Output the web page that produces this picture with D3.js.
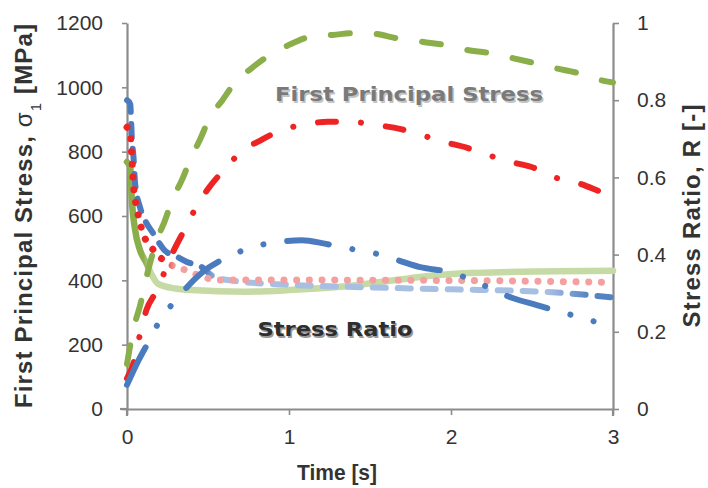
<!DOCTYPE html>
<html>
<head>
<meta charset="utf-8">
<script src="https://cdn.jsdelivr.net/npm/d3@7"></script>
<style>
  html, body { margin: 0; padding: 0; background: #fff; }
  svg { display: block; }
</style>
</head>
<body>
<svg id="chart" width="708" height="488"></svg>
<script>
// ---------- DATA ----------
const xTicks = [0, 1, 2, 3];
const leftTicks = [0, 200, 400, 600, 800, 1000, 1200];
const rightTicks = [0, 0.2, 0.4, 0.6, 0.8, 1];

// First principal stress [MPa] (left axis)
const tGreenStress = [0, 0.04, 0.08, 0.13, 0.19, 0.23, 0.28, 0.34, 0.39, 0.45, 0.51, 0.59, 0.67, 0.77, 0.88, 1.0, 1.13, 1.27, 1.42, 1.54, 1.66, 1.83, 1.96, 2.1, 2.23, 2.38, 2.51, 2.64, 2.78, 2.92, 3.0];
const greenStress  = [140, 250, 320, 430, 533, 580, 651, 713, 775, 837, 905, 961, 1017, 1060, 1100, 1132, 1157, 1163, 1169, 1166, 1153, 1141, 1132, 1116, 1107, 1091, 1076, 1060, 1045, 1023, 1015];

const tRedStress = [0, 0.05, 0.08, 0.12, 0.18, 0.28, 0.36, 0.43, 0.51, 0.6, 0.7, 0.83, 0.96, 1.09, 1.24, 1.38, 1.52, 1.69, 1.81, 1.95, 2.1, 2.22, 2.36, 2.51, 2.63, 2.78, 2.92, 3.0];
const redStress  = [95, 160, 232, 308, 365, 484, 562, 630, 691, 744, 797, 837, 868, 884, 893, 893, 884, 870, 853, 831, 812, 791, 769, 750, 722, 703, 676, 660];

const tBlueStress = [0, 0.07, 0.14, 0.2, 0.3, 0.46, 0.65, 0.78, 0.93, 1.08, 1.22, 1.36, 1.52, 1.67, 1.81, 1.99, 2.2, 2.38, 2.53, 2.81, 3.0];
const blueStress  = [75, 150, 215, 273, 338, 423, 479, 504, 519, 525, 514, 500, 485, 463, 441, 426, 385, 345, 323, 283, 255];

// Stress ratio R [-] (right axis)
const tGreenRatio = [0, 0.02, 0.03, 0.05, 0.08, 0.12, 0.15, 0.19, 0.3, 0.4, 0.73, 1.0, 1.3, 1.75, 2.0, 2.5, 3.0];
const greenRatio  = [0.64, 0.627, 0.541, 0.464, 0.412, 0.378, 0.35, 0.325, 0.312, 0.308, 0.304, 0.308, 0.316, 0.339, 0.35, 0.356, 0.358];

const tRedRatio = [0, 0.02, 0.03, 0.04, 0.06, 0.08, 0.1, 0.14, 0.19, 0.25, 0.33, 0.39, 0.47, 0.56, 1.0, 2.0, 3.0];
const redRatio  = [0.73, 0.715, 0.65, 0.58, 0.521, 0.484, 0.453, 0.425, 0.399, 0.378, 0.365, 0.355, 0.342, 0.334, 0.334, 0.333, 0.328];

const tBlueRatio = [0, 0.02, 0.03, 0.04, 0.05, 0.08, 0.11, 0.16, 0.23, 0.31, 0.37, 0.46, 0.54, 0.7, 1.0, 1.5, 2.0, 2.6, 3.0];
const blueRatio  = [0.8, 0.79, 0.70, 0.653, 0.585, 0.523, 0.49, 0.456, 0.412, 0.394, 0.381, 0.368, 0.342, 0.33, 0.322, 0.315, 0.31, 0.303, 0.289];

// ---------- CHART ----------
const svg = d3.select("#chart");
const FONT = "'Liberation Sans', Arial, sans-serif";
const x = d3.scaleLinear().domain([0, 3]).range([127, 613]);
const yL = d3.scaleLinear().domain([0, 1200]).range([409, 23]);
const yR = d3.scaleLinear().domain([0, 1]).range([409, 23]);

const defs = svg.append("defs");
function gradient(id, stops) {
  const g = defs.append("linearGradient").attr("id", id)
    .attr("gradientUnits", "userSpaceOnUse")
    .attr("x1", x(0)).attr("x2", x(3)).attr("y1", 0).attr("y2", 0);
  stops.forEach(([t, c]) => g.append("stop").attr("offset", t / 3).attr("stop-color", c));
}
gradient("gGreen", [[0, "#8aae4a"], [0.1, "#8aae4a"], [0.15, "#c6daa6"], [3, "#c6daa6"]]);
gradient("gRed", [[0, "#ee2424"], [0.22, "#ee2424"], [0.3, "#f4a0a0"], [3, "#f4a0a0"]]);
gradient("gBlue", [[0, "#4a7bbf"], [0.48, "#4a7bbf"], [0.56, "#a6bfe2"], [2.6, "#a6bfe2"], [2.85, "#5583c2"], [3, "#5583c2"]]);

const axisColor = "#8c8c8c";
const textColor = "#333";

// Axes
const gx = svg.append("g").attr("transform", "translate(0,409)")
  .call(d3.axisBottom(x).tickValues(xTicks).tickSize(6).tickSizeOuter(0).tickPadding(14).tickFormat(d3.format("d")));
const gl = svg.append("g").attr("transform", "translate(127,0)")
  .call(d3.axisLeft(yL).tickValues(leftTicks).tickSize(6).tickSizeOuter(0).tickPadding(18).tickFormat(d3.format("d")));
const gr = svg.append("g").attr("transform", "translate(613,0)")
  .call(d3.axisRight(yR).tickValues(rightTicks).tickSize(6).tickSizeOuter(0).tickPadding(18).tickFormat(d => String(d)));

[gx, gl, gr].forEach(g => {
  g.select(".domain").attr("stroke", axisColor).attr("stroke-width", 2.2);
  g.selectAll(".tick line").attr("stroke", axisColor).attr("stroke-width", 1.6);
  g.selectAll(".tick text").attr("fill", textColor).style("font-family", FONT).style("font-size", "21px");
});
// small axis overhangs
svg.append("line").attr("x1", 120).attr("x2", 127).attr("y1", 409).attr("y2", 409).attr("stroke", axisColor).attr("stroke-width", 2.2);
svg.append("line").attr("x1", 127).attr("x2", 127).attr("y1", 409).attr("y2", 416).attr("stroke", axisColor).attr("stroke-width", 2.2);
svg.append("line").attr("x1", 613).attr("x2", 613).attr("y1", 409).attr("y2", 416).attr("stroke", axisColor).attr("stroke-width", 2.2);
gl.selectAll(".tick line").attr("x2", -5);

// Lines
const line = (ys) => d3.line().x(d => x(d[0])).y(d => ys(d[1])).curve(d3.curveMonotoneX);
const zip = (a, b) => a.map((t, i) => [t, b[i]]);

const plot = svg.append("g").attr("fill", "none").attr("stroke-linecap", "round");

plot.append("path").datum(zip(tGreenRatio, greenRatio))
  .attr("d", line(yR)).attr("stroke", "url(#gGreen)").attr("stroke-width", 6.5);
plot.append("path").datum(zip(tBlueRatio, blueRatio))
  .attr("d", line(yR)).attr("stroke", "url(#gBlue)").attr("stroke-width", 6)
  .attr("stroke-dasharray", "13,12");
plot.append("path").datum(zip(tRedRatio, redRatio))
  .attr("d", line(yR)).attr("stroke", "url(#gRed)").attr("stroke-width", 7)
  .attr("stroke-dasharray", "0.1,12.6");

plot.append("path").datum(zip(tGreenStress, greenStress))
  .attr("d", line(yL)).attr("stroke", "#8aae4a").attr("stroke-width", 6)
  .attr("stroke-dasharray", "19,27");
plot.append("path").datum(zip(tRedStress, redStress))
  .attr("d", line(yL)).attr("stroke", "#ee2424").attr("stroke-width", 6)
  .attr("stroke-dasharray", "18,25,0.1,25");
plot.append("path").datum(zip(tBlueStress, blueStress))
  .attr("d", line(yL)).attr("stroke", "#4a7bbf").attr("stroke-width", 6)
  .attr("stroke-dasharray", "42,24,0.1,24,0.1,24");

// Annotations
function label(txt, cx, by, len, fill, shadow) {
  svg.append("text").attr("x", cx + 1.5).attr("y", by + 1.5).attr("text-anchor", "middle")
    .attr("textLength", len).attr("lengthAdjust", "spacingAndGlyphs")
    .style("font-family", "'DejaVu Sans', sans-serif").style("font-weight", "bold").style("font-size", "20px")
    .attr("fill", shadow).text(txt);
  svg.append("text").attr("x", cx).attr("y", by).attr("text-anchor", "middle")
    .attr("textLength", len).attr("lengthAdjust", "spacingAndGlyphs")
    .style("font-family", "'DejaVu Sans', sans-serif").style("font-weight", "bold").style("font-size", "20px")
    .attr("fill", fill).text(txt);
}
label("First Principal Stress", 409, 101, 268, "#7a7a7a", "#c4c4c4");
label("Stress Ratio", 335, 336, 155, "#2e2e2e", "#9a9a9a");

// Axis titles
const lt = svg.append("text").attr("transform", "translate(32,216) rotate(-90)")
  .attr("text-anchor", "middle").attr("textLength", 384).attr("lengthAdjust", "spacing")
  .style("font-family", FONT).style("font-weight", "bold").style("font-size", "24px").attr("fill", textColor);
lt.append("tspan").text("First Principal Stress, ");
lt.append("tspan").style("font-weight", "normal").text("σ");
lt.append("tspan").attr("baseline-shift", "sub").style("font-size", "15px").style("font-weight", "normal").text("1");
lt.append("tspan").text(" [MPa]");

svg.append("text").attr("transform", "translate(700,216) rotate(-90)")
  .attr("text-anchor", "middle").attr("textLength", 223).attr("lengthAdjust", "spacing")
  .style("font-family", FONT).style("font-weight", "bold").style("font-size", "24px").attr("fill", textColor)
  .text("Stress Ratio, R [-]");

svg.append("text").attr("x", 337).attr("y", 480).attr("text-anchor", "middle")
  .attr("textLength", 80).attr("lengthAdjust", "spacingAndGlyphs")
  .style("font-family", FONT).style("font-weight", "bold").style("font-size", "22px").attr("fill", textColor)
  .text("Time [s]");
</script>
</body>
</html>
